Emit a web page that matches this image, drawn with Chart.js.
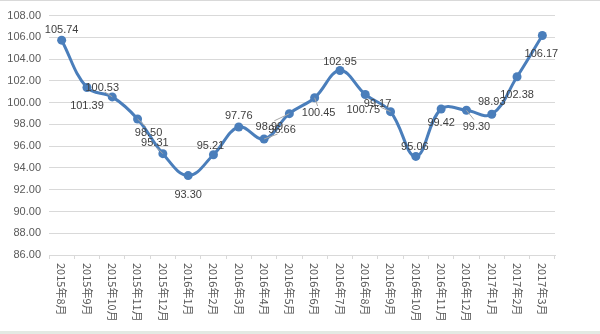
<!DOCTYPE html>
<html>
<head>
<meta charset="utf-8">
<script src="https://cdn.jsdelivr.net/npm/chart.js@4/dist/chart.umd.min.js"></script>
<style>
  html, body { margin: 0; padding: 0; background: #fff; }
  #wrap { position: relative; width: 600px; height: 334px; border-top: 1px solid #d9d9d9; box-sizing: border-box; }
  #band { position: absolute; left: 0; bottom: 0; width: 600px; height: 3px; background: #e3e9e3; }
</style>
</head>
<body>
<div id="wrap">
  <canvas id="c" width="600" height="333"></canvas>
  <div id="band"></div>
</div>
<script>
// Monthly index, Aug 2015 – Mar 2017
const months = ['2015年8月','2015年9月','2015年10月','2015年11月','2015年12月','2016年1月','2016年2月','2016年3月','2016年4月','2016年5月','2016年6月','2016年7月','2016年8月','2016年9月','2016年10月','2016年11月','2016年12月','2017年1月','2017年2月','2017年3月'];
const indexValues = [105.74, 101.39, 100.53, 98.50, 95.31, 93.30, 95.21, 97.76, 96.66, 98.99, 100.45, 102.95, 100.75, 99.17, 95.06, 99.42, 99.30, 98.93, 102.38, 106.17];
const yMin = 86, yMax = 108, yStep = 2;

// Where each value label sits relative to its point (dx, dy in px)
const labelShift = [[0,-10],[0,18],[-10,-9],[11,14],[-8,-11],[0,19],[-3,-9],[0,-11],[18,-9],[-20,13],[4,15],[0,-9],[-2,15],[-13,-8],[-1,-9],[0,14],[10,17],[0,-12],[0,18],[-1,18]];
// Labels pulled away from their point get a thin connector
const withLeader = [2, 3, 4, 8, 9, 10, 13, 16];

const valueLabels = {
  id: 'valueLabels',
  afterDatasetsDraw(chart) {
    const ctx = chart.ctx;
    const meta = chart.getDatasetMeta(0);
    ctx.save();
    ctx.font = '11px "Liberation Sans", Arial, sans-serif';
    ctx.textAlign = 'center';
    ctx.textBaseline = 'middle';
    meta.data.forEach((pt, i) => {
      const [dx, dy] = labelShift[i];
      const lx = pt.x + dx, ly = pt.y + dy;
      if (withLeader.includes(i)) {
        ctx.strokeStyle = '#a6a6a6';
        ctx.lineWidth = 1;
        ctx.beginPath();
        ctx.moveTo(pt.x, pt.y);
        ctx.lineTo(pt.x + dx * 0.75, pt.y + dy * 0.55);
        ctx.stroke();
      }
      ctx.fillStyle = '#404040';
      ctx.fillText(indexValues[i].toFixed(2), lx, ly);
    });
    ctx.restore();
  }
};

// Category labels turned to read top-to-bottom
const verticalTicks = {
  id: 'verticalTicks',
  afterDraw(chart) {
    const x = chart.scales.x;
    const ctx = chart.ctx;
    ctx.save();
    ctx.font = '11px "Noto Sans CJK SC", sans-serif';
    ctx.fillStyle = '#595959';
    ctx.textAlign = 'left';
    ctx.textBaseline = 'middle';
    months.forEach((m, i) => {
      const px = x.getPixelForTick(i);
      ctx.save();
      ctx.translate(px, x.top + 8);
      ctx.rotate(Math.PI / 2);
      ctx.fillText(m, 0, 0);
      ctx.restore();
    });
    ctx.restore();
  }
};

new Chart(document.getElementById('c'), {
  type: 'line',
  data: {
    labels: months,
    datasets: [{
      data: indexValues,
      borderColor: '#4a7ebb',
      backgroundColor: '#4a7ebb',
      borderWidth: 3,
      pointRadius: 4.5,
      pointBorderWidth: 0,
      tension: 0.4,
      fill: false
    }]
  },
  options: {
    responsive: false,
    animation: false,
    devicePixelRatio: 1,
    layout: { padding: { top: 13, right: 45, left: 0, bottom: 0 } },
    plugins: { legend: { display: false }, tooltip: { enabled: false } },
    scales: {
      x: {
        offset: true,
        afterFit: s => { s.height = 79; },
        ticks: { display: false },
        grid: { offset: true, drawOnChartArea: false, drawTicks: true, tickLength: 4, color: '#d9d9d9' },
        border: { color: '#d9d9d9' }
      },
      y: {
        min: yMin, max: yMax,
        afterFit: s => { s.width = 49; },
        ticks: {
          stepSize: yStep,
          padding: 8,
          color: '#595959',
          font: { family: '"Liberation Sans", Arial, sans-serif', size: 11 },
          callback: v => v.toFixed(2)
        },
        grid: { color: '#d9d9d9', drawTicks: false },
        border: { display: false }
      }
    }
  },
  plugins: [valueLabels, verticalTicks]
});
</script>
</body>
</html>
